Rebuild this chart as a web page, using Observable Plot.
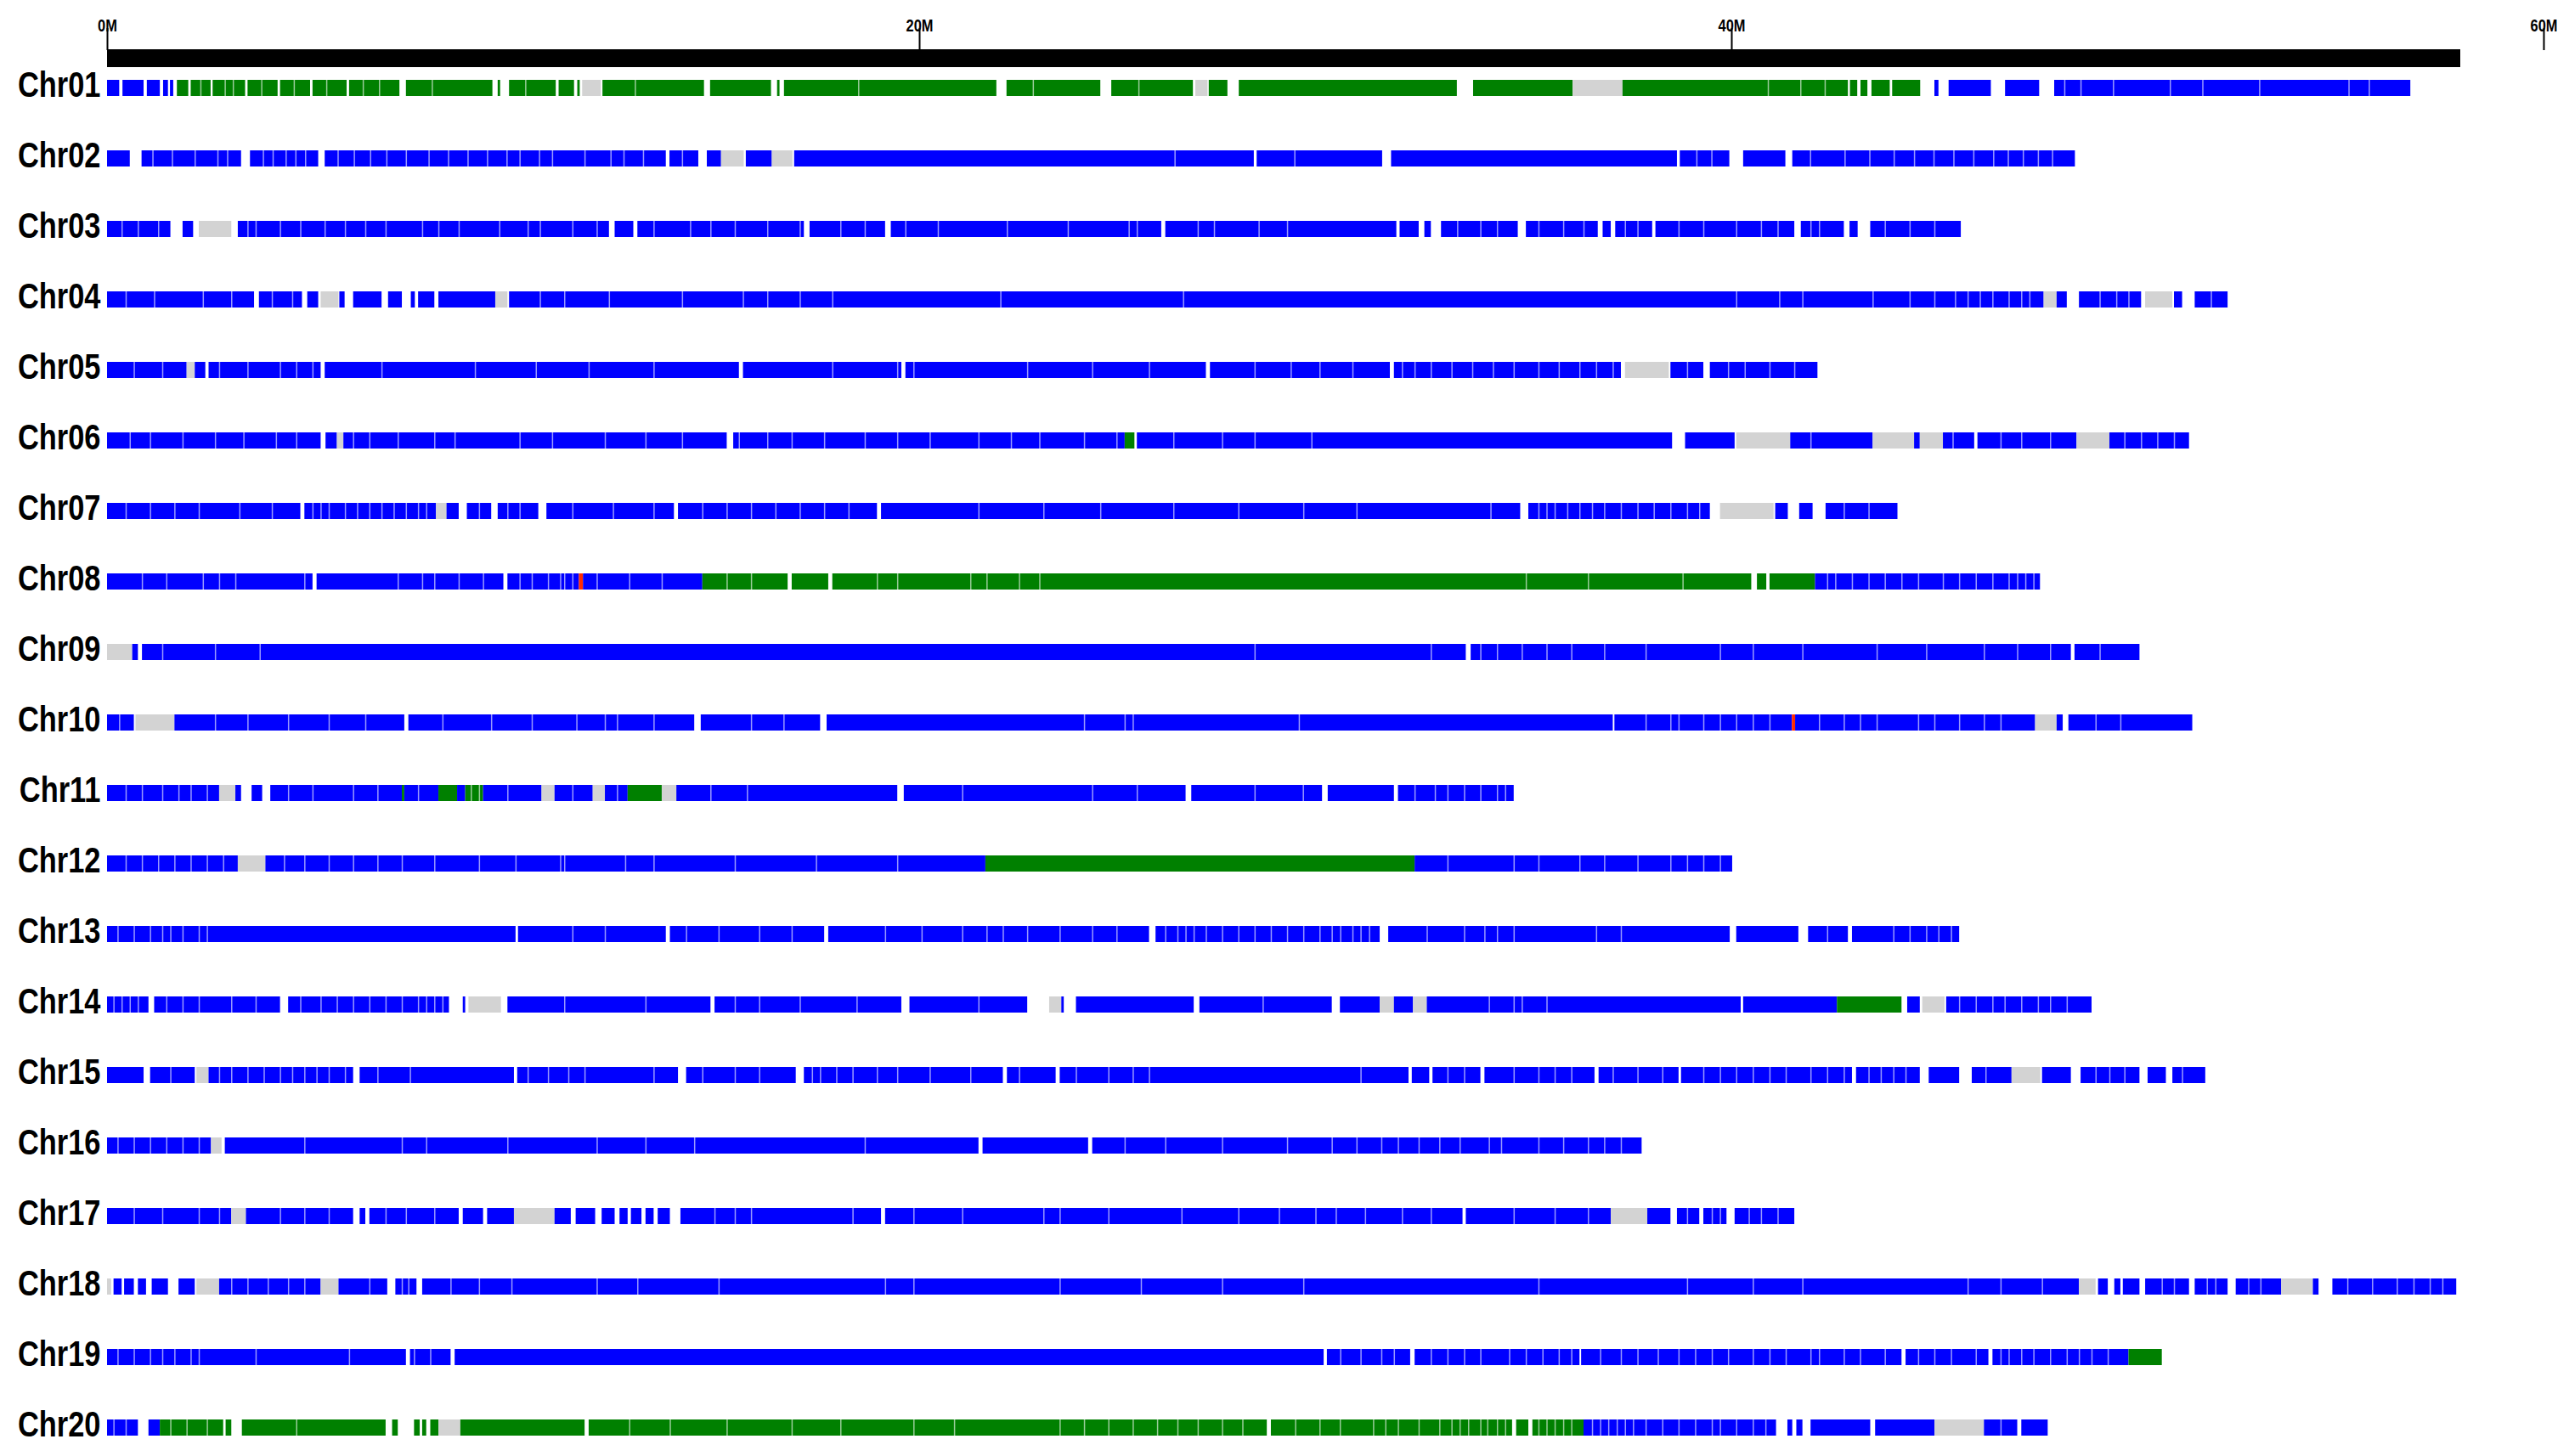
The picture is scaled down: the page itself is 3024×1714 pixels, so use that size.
<!DOCTYPE html>
<html>
<head>
<meta charset="utf-8">
<script src="https://cdn.jsdelivr.net/npm/d3@7"></script>
<script src="https://cdn.jsdelivr.net/npm/@observablehq/plot@0.6"></script>
<style>
  html, body { margin: 0; padding: 0; background: #fff; }
  #chart { position: relative; width: 3024px; height: 1714px; }
  #chart svg { display: block; position: absolute; left: 0; }
</style>
</head>
<body>
<div id="chart"></div>
<script>
// ---------- data (positions in Mb) ----------
const chromosomes = ["Chr01","Chr02","Chr03","Chr04","Chr05","Chr06","Chr07","Chr08","Chr09","Chr10",
                     "Chr11","Chr12","Chr13","Chr14","Chr15","Chr16","Chr17","Chr18","Chr19","Chr20"];
const rulerTicks = [0, 20, 40, 60];
const tickLabels = ["0M", "20M", "40M", "60M"];
const rulerSpan = [0, 57.95];
const typeCodes = ["B", "G", "M", "R"];
const typeColors = ["#0000ff", "#008000", "#d3d3d3", "#ff2a00"];

// segments: [start, end, type]
const seg01 = [[0,0.3,"B"],[0.38,0.9,"B"],[0.98,1.3,"B"],[1.38,1.5,"B"],[1.55,1.63,"B"],
 [1.72,2.0,"G"],[2.06,2.55,"G"],[2.6,3.4,"G"],[3.46,4.2,"G"],[4.26,5.0,"G"],[5.06,5.9,"G"],[5.96,7.2,"G"],[7.36,9.49,"G"],[9.62,9.68,"G"],[9.9,11.05,"G"],[11.12,11.5,"G"],[11.58,11.64,"G"],
 [11.7,12.16,"M"],[12.2,14.7,"G"],[14.85,16.35,"G"],[16.5,16.56,"G"],[16.67,21.9,"G"],[22.15,24.46,"G"],[24.73,26.74,"G"],
 [26.8,27.1,"M"],[27.13,27.59,"G"],[27.87,33.24,"G"],[33.64,36.09,"G"],[36.09,37.32,"M"],
 [37.32,42.87,"G"],[42.92,43.1,"G"],[43.18,43.35,"G"],[43.45,43.9,"G"],[43.96,44.65,"G"],
 [45.0,45.1,"B"],[45.35,46.39,"B"],[46.74,47.58,"B"],[47.95,56.72,"B"]];
const seg02 = [[0,0.56,"B"],[0.85,3.3,"B"],[3.52,5.2,"B"],[5.36,13.76,"B"],[13.85,14.56,"B"],[14.77,15.12,"B"],[15.12,15.68,"M"],[15.73,16.37,"B"],[16.37,16.88,"M"],[16.92,28.24,"B"],[28.31,31.4,"B"],[31.62,38.66,"B"],[38.73,39.95,"B"],[40.29,41.33,"B"],[41.5,48.46,"B"]];
const seg03 = [[0,1.56,"B"],[1.86,2.12,"B"],[2.26,3.06,"M"],[3.22,12.36,"B"],[12.5,12.96,"B"],[13.06,17.16,"B"],[17.3,19.16,"B"],[19.3,25.96,"B"],[26.06,31.75,"B"],[31.83,32.3,"B"],[32.44,32.6,"B"],[32.85,34.74,"B"],[34.94,36.71,"B"],[36.83,37.03,"B"],[37.14,38.05,"B"],[38.13,41.55,"B"],[41.71,42.77,"B"],[42.91,43.11,"B"],[43.42,45.65,"B"]];
const seg04 = [[0,3.62,"B"],[3.74,4.8,"B"],[4.93,5.2,"B"],[5.26,5.7,"M"],[5.72,5.85,"B"],[6.06,6.76,"B"],[6.92,7.26,"B"],[7.48,7.58,"B"],[7.66,8.06,"B"],[8.16,9.56,"B"],[9.56,9.86,"M"],[9.9,47.69,"B"],[47.69,48.01,"M"],[48.01,48.26,"B"],[48.56,50.09,"B"],[50.19,50.86,"M"],[50.9,51.1,"B"],[51.41,52.22,"B"]];
const seg05 = [[0,1.96,"B"],[1.96,2.16,"M"],[2.16,2.42,"B"],[2.5,5.26,"B"],[5.36,15.56,"B"],[15.66,19.56,"B"],[19.66,27.06,"B"],[27.16,31.59,"B"],[31.69,37.28,"B"],[37.38,38.46,"M"],[38.5,39.31,"B"],[39.47,42.12,"B"]];
const seg06 = [[0,5.26,"B"],[5.38,5.66,"B"],[5.66,5.82,"M"],[5.82,15.26,"B"],[15.42,25.06,"B"],[25.06,25.3,"G"],[25.36,38.54,"B"],[38.86,40.08,"B"],[40.12,41.45,"M"],[41.45,43.48,"B"],[43.48,44.5,"M"],[44.5,44.64,"B"],[44.64,45.21,"M"],[45.21,45.98,"B"],[46.06,48.5,"B"],[48.5,49.31,"M"],[49.31,51.27,"B"]];
const seg07 = [[0,4.76,"B"],[4.86,8.1,"B"],[8.1,8.36,"M"],[8.36,8.66,"B"],[8.86,9.46,"B"],[9.62,10.62,"B"],[10.82,13.96,"B"],[14.06,18.96,"B"],[19.06,34.8,"B"],[35.0,39.47,"B"],[39.72,41.04,"M"],[41.08,41.39,"B"],[41.67,42.0,"B"],[42.32,44.09,"B"]];
const seg08 = [[0,5.06,"B"],[5.16,9.76,"B"],[9.86,11.62,"B"],[11.62,11.72,"R"],[11.72,14.66,"B"],[14.66,16.76,"G"],[16.86,17.76,"G"],[17.86,40.49,"G"],[40.63,40.86,"G"],[40.94,42.06,"G"],[42.06,47.6,"B"]];
const seg09 = [[0,0.62,"M"],[0.62,0.76,"B"],[0.86,33.46,"B"],[33.58,48.36,"B"],[48.45,50.05,"B"]];
const seg10 = [[0,0.66,"B"],[0.7,1.66,"M"],[1.66,7.32,"B"],[7.42,14.46,"B"],[14.62,17.56,"B"],[17.72,37.08,"B"],[37.12,41.49,"B"],[41.49,41.57,"R"],[41.57,47.48,"B"],[47.48,48.01,"M"],[48.01,48.16,"B"],[48.3,51.35,"B"]];
const seg11 = [[0,2.76,"B"],[2.76,3.16,"M"],[3.16,3.3,"B"],[3.56,3.82,"B"],[4.02,7.26,"B"],[7.26,7.32,"G"],[7.32,8.16,"B"],[8.16,8.62,"G"],[8.62,8.82,"B"],[8.82,9.26,"G"],[9.26,10.7,"B"],[10.7,11.02,"M"],[11.02,11.96,"B"],[11.96,12.26,"M"],[12.26,12.82,"B"],[12.82,13.66,"G"],[13.66,14.02,"M"],[14.02,19.46,"B"],[19.62,26.56,"B"],[26.7,29.92,"B"],[30.06,31.69,"B"],[31.79,34.64,"B"]];
const seg12 = [[0,3.22,"B"],[3.22,3.9,"M"],[3.9,21.63,"B"],[21.63,32.2,"G"],[32.2,40.02,"B"]];
const seg13 = [[0,10.06,"B"],[10.12,13.76,"B"],[13.86,17.66,"B"],[17.76,25.66,"B"],[25.82,31.34,"B"],[31.55,39.96,"B"],[40.12,41.65,"B"],[41.89,42.87,"B"],[42.97,45.61,"B"]];
const seg14 = [[0,1.02,"B"],[1.16,4.26,"B"],[4.46,8.42,"B"],[8.76,8.82,"B"],[8.9,9.7,"M"],[9.86,14.86,"B"],[14.96,19.56,"B"],[19.76,22.66,"B"],[23.2,23.5,"M"],[23.5,23.56,"B"],[23.86,26.76,"B"],[26.9,30.16,"B"],[30.36,31.34,"B"],[31.34,31.69,"M"],[31.69,32.16,"B"],[32.16,32.5,"M"],[32.5,40.23,"B"],[40.29,42.6,"B"],[42.6,44.19,"G"],[44.33,44.64,"B"],[44.7,45.25,"M"],[45.29,48.87,"B"]];
const seg15 = [[0,0.9,"B"],[1.06,2.16,"B"],[2.2,2.5,"M"],[2.5,6.06,"B"],[6.22,10.02,"B"],[10.1,14.06,"B"],[14.26,16.96,"B"],[17.16,22.06,"B"],[22.16,23.36,"B"],[23.46,32.05,"B"],[32.13,32.56,"B"],[32.64,33.82,"B"],[33.92,36.63,"B"],[36.73,38.7,"B"],[38.76,42.97,"B"],[43.07,44.64,"B"],[44.86,45.61,"B"],[45.92,46.9,"B"],[46.9,47.61,"M"],[47.65,48.36,"B"],[48.6,50.05,"B"],[50.25,50.7,"B"],[50.86,51.67,"B"]];
const seg16 = [[0,2.56,"B"],[2.56,2.82,"M"],[2.9,21.46,"B"],[21.56,24.16,"B"],[24.26,37.79,"B"]];
const seg17 = [[0,3.06,"B"],[3.06,3.42,"M"],[3.42,6.06,"B"],[6.22,6.36,"B"],[6.46,8.66,"B"],[8.76,9.26,"B"],[9.36,10.02,"B"],[10.02,11.02,"M"],[11.02,11.42,"B"],[11.54,12.02,"B"],[12.18,12.5,"B"],[12.62,12.82,"B"],[12.9,13.16,"B"],[13.26,13.46,"B"],[13.56,13.86,"B"],[14.12,19.06,"B"],[19.16,33.38,"B"],[33.46,37.03,"B"],[37.03,37.93,"M"],[37.93,38.5,"B"],[38.66,39.21,"B"],[39.31,39.88,"B"],[40.08,41.55,"B"]];
const seg18 = [[0,0.1,"M"],[0.16,0.36,"B"],[0.42,0.66,"B"],[0.76,0.96,"B"],[1.1,1.5,"B"],[1.76,2.16,"B"],[2.2,2.76,"M"],[2.76,5.26,"B"],[5.26,5.7,"M"],[5.7,6.9,"B"],[7.1,7.62,"B"],[7.76,48.56,"B"],[48.56,48.97,"M"],[49.03,49.27,"B"],[49.43,49.58,"B"],[49.64,50.05,"B"],[50.19,51.27,"B"],[51.41,52.22,"B"],[52.42,53.54,"B"],[53.54,54.32,"M"],[54.32,54.46,"B"],[54.8,57.85,"B"]];
const seg19 = [[0,7.36,"B"],[7.46,8.46,"B"],[8.56,29.96,"B"],[30.04,32.09,"B"],[32.2,36.26,"B"],[36.3,44.19,"B"],[44.29,46.33,"B"],[46.43,49.78,"B"],[49.78,50.6,"G"]];
const seg20 = [[0,0.76,"B"],[1.02,1.3,"B"],[1.3,2.86,"G"],[2.92,3.06,"G"],[3.32,6.86,"G"],[7.02,7.16,"G"],[7.56,7.7,"G"],[7.76,7.86,"G"],[7.96,8.16,"G"],[8.16,8.7,"M"],[8.7,11.76,"G"],[11.86,28.56,"G"],[28.66,34.6,"G"],[34.7,35.0,"G"],[35.1,36.36,"G"],[36.36,41.1,"B"],[41.38,41.5,"B"],[41.6,41.75,"B"],[41.95,43.42,"B"],[43.54,45.0,"B"],[45.0,46.22,"M"],[46.22,47.04,"B"],[47.14,47.79,"B"]];

// thin white separators inside blocks (Mb)
const hair01 = [2.3,2.9,3.1,3.8,4.6,5.4,6.3,6.7,8.0,10.3,13.0,18.5,22.8,25.4,40.9,41.7,42.3,48.2,48.6,49.4,50.8,51.6,53.0,55.2,55.7];
const hair02 = [1.12,1.6,2.16,2.72,2.96,3.84,4.08,4.4,4.64,4.88,5.68,6.08,6.48,6.88,7.36,7.92,8.4,8.88,9.36,9.84,10.16,10.64,10.96,11.76,12.4,12.72,13.2,14.16,26.29,29.24,39.14,39.51,41.94,42.79,43.4,44.0,44.5,44.98,45.47,45.96,46.45,46.81,47.18,47.55,47.9];
const hair03 = [0.36,0.76,1.26,3.46,3.66,4.26,4.76,5.36,5.86,6.36,6.86,7.76,8.16,8.66,9.66,10.36,10.66,11.46,12.06,13.46,14.36,14.86,15.46,16.26,17.06,18.06,18.66,19.66,20.46,22.16,23.66,25.16,25.36,26.86,27.26,28.36,29.06,33.25,33.82,34.23,35.25,35.86,36.36,37.38,37.69,38.7,39.31,40.12,40.73,41.14,41.95,42.16,43.78,44.39,45.0];
const hair04 = [0.46,1.16,2.36,3.06,4.06,4.56,10.66,11.26,12.36,14.16,15.66,16.26,17.06,17.86,22.0,26.5,40.12,41.18,41.75,43.48,44.39,45.0,45.51,45.82,46.12,46.43,46.83,47.14,47.34,49.07,49.48,49.78,51.81];
const hair05 = [0.66,1.36,2.76,3.46,4.26,4.66,5.06,6.76,9.06,10.56,11.86,13.46,17.86,19.46,19.86,22.66,24.26,25.66,28.26,29.15,29.86,30.67,31.89,32.2,32.6,33.11,33.62,34.13,34.64,35.25,35.75,36.26,36.67,37.08,38.91,39.92,40.33,40.94,41.55];
const hair06 = [0.56,1.06,1.86,2.66,3.36,4.16,4.66,6.06,6.46,7.16,8.06,8.56,10.16,10.96,12.26,13.26,14.16,15.56,16.26,16.86,17.66,18.66,19.46,20.26,21.46,22.26,22.96,24.06,24.86,26.26,27.46,28.26,29.66,41.95,45.45,46.63,47.14,47.85,49.68,50.09,50.49,50.9];
const hair07 = [0.46,1.06,1.66,2.26,3.26,4.06,5.06,5.26,5.46,5.86,6.16,6.46,6.76,7.06,7.36,7.66,7.86,9.16,9.86,10.16,11.46,12.46,13.46,14.66,15.26,15.86,16.46,17.06,17.66,18.26,21.46,23.06,24.46,26.26,27.86,29.46,30.77,34.07,35.25,35.45,35.65,35.96,36.26,36.57,36.87,37.28,37.69,38.09,38.5,38.91,39.21,42.77,43.38];
const hair08 = [0.86,1.46,2.36,2.76,3.16,4.86,7.16,7.76,8.06,8.66,9.26,10.16,10.46,10.86,11.16,11.26,11.46,12.06,12.86,13.66,15.26,15.86,18.96,19.46,21.26,21.66,22.46,22.96,34.94,36.47,38.8,42.36,42.56,42.97,43.38,43.78,44.19,44.6,45.21,45.61,46.02,46.43,46.83,47.04,47.24,47.44];
const hair09 = [1.36,2.66,3.76,28.26,32.6,33.82,34.23,34.84,35.45,36.06,36.87,37.89,39.72,40.53,41.75,43.58,44.8,46.22,47.04,47.85,49.07];
const hair10 = [0.3,2.66,3.46,4.46,5.46,6.36,8.26,9.46,10.46,11.56,12.26,12.56,13.46,15.86,16.66,24.06,25.06,25.26,29.35,37.89,38.5,38.7,39.31,39.72,40.12,40.53,40.94,42.16,42.77,43.17,43.58,44.6,45.0,45.61,46.22,46.63,48.97,49.58];
const hair11 = [0.46,0.86,1.36,1.76,2.06,2.46,4.46,5.06,6.06,6.66,7.66,8.96,9.16,9.86,11.46,12.56,14.86,15.76,21.06,24.26,25.36,28.26,29.45,32.2,32.7,33.01,33.42,33.82,34.23,34.43];
const hair12 = [0.46,0.86,1.26,1.66,2.06,2.46,2.86,4.36,4.86,5.46,6.06,6.66,7.26,8.06,9.16,10.06,11.16,11.26,12.76,13.46,15.46,17.46,19.46,33.01,34.64,35.25,36.26,36.87,37.69,38.5,38.91,39.31,39.72];
const hair13 = [0.26,0.66,1.06,1.36,1.56,1.86,2.26,2.46,11.46,12.26,14.26,15.06,16.06,16.86,19.16,20.06,21.06,21.66,22.06,22.66,23.46,24.26,24.86,26.06,26.36,26.56,26.76,27.06,27.46,27.86,28.26,28.66,29.06,29.46,29.86,30.16,30.37,30.67,30.87,31.08,32.5,33.42,33.92,34.23,34.64,36.67,37.28,42.36,43.99,44.39,44.8,45.1,45.41];
const hair14 = [0.16,0.36,0.56,0.76,1.46,1.86,2.26,3.06,3.66,4.76,5.26,5.66,6.06,6.46,6.86,7.26,7.66,7.86,8.06,8.26,11.26,13.26,15.46,16.06,17.06,18.46,21.46,28.46,34.03,34.64,34.84,35.45,45.61,46.02,46.43,46.73,47.14,47.55,47.85,48.26];
const hair15 = [1.56,2.76,3.06,3.46,3.86,4.26,4.56,4.86,5.16,5.46,5.86,6.66,7.46,10.36,10.86,11.36,11.76,13.46,14.66,15.46,16.06,17.36,17.56,17.96,18.36,18.96,19.46,20.26,21.26,22.46,23.86,24.66,25.26,25.66,30.87,33.01,33.42,34.64,35.25,35.65,36.06,37.08,37.69,38.3,39.31,39.72,40.12,40.53,40.94,41.34,41.95,42.36,42.77,43.38,43.68,43.99,44.29,46.26,48.97,49.31,49.68,51.1];
const hair16 = [0.26,0.66,1.06,1.46,1.86,2.26,4.86,7.26,7.86,9.86,12.06,13.26,14.46,18.66,25.06,26.06,27.46,29.06,30.16,30.77,31.38,31.79,32.3,32.81,33.31,34.03,34.33,35.25,35.86,36.47,36.87,37.28];
const hair17 = [0.66,1.36,2.26,2.76,4.26,4.86,5.46,6.86,7.36,8.06,14.96,15.46,15.86,18.36,19.86,21.06,23.06,23.46,24.66,26.46,27.86,28.86,29.76,30.26,30.98,31.89,32.6,34.64,35.65,36.47,38.91,39.52,39.72,40.43,40.73,41.14];
const hair18 = [3.06,3.46,3.96,4.46,4.86,6.46,7.26,7.42,8.46,9.16,9.96,12.06,13.06,15.06,19.16,19.86,23.46,25.46,27.46,29.46,35.25,38.91,40.53,41.75,45.82,46.63,47.65,50.6,50.9,51.71,51.92,52.73,53.03,55.17,55.78,56.39,56.8,57.2,57.51];
const hair19 = [0.26,0.66,1.06,1.36,1.66,2.06,2.26,3.66,5.96,7.56,7.96,30.37,30.87,31.38,31.69,32.6,33.01,33.42,33.82,34.53,34.94,35.35,35.75,36.06,36.77,37.28,37.69,38.19,38.7,39.11,39.52,39.92,40.53,40.94,41.34,41.95,42.16,42.77,43.17,43.78,44.6,45.0,45.41,46.02,46.63,46.83,47.14,47.44,47.85,48.26,48.56,48.87,49.27];
const hair20 = [0.16,0.46,1.56,1.96,2.46,4.66,12.86,13.86,15.26,16.86,18.06,19.86,20.86,23.46,24.06,24.66,25.26,25.86,26.36,26.86,27.46,27.96,29.26,29.86,30.36,31.18,31.48,31.79,32.3,32.81,33.11,33.31,33.52,33.82,33.99,34.23,34.43,35.25,35.45,35.65,35.86,36.06,36.57,36.77,36.97,37.18,37.38,37.58,37.89,38.3,38.7,39.11,39.52,39.72,40.12,40.53,40.84,46.63];

const segmentLists = [seg01,seg02,seg03,seg04,seg05,seg06,seg07,seg08,seg09,seg10,seg11,seg12,seg13,seg14,seg15,seg16,seg17,seg18,seg19,seg20];
const hairLists = [hair01,hair02,hair03,hair04,hair05,hair06,hair07,hair08,hair09,hair10,hair11,hair12,hair13,hair14,hair15,hair16,hair17,hair18,hair19,hair20];

// ---------- build tables ----------
const segTable = segmentLists.flatMap((list, i) =>
  list.map(([start, end, code]) => ({chr: chromosomes[i], start, end, code})));
const hairTable = hairLists.flatMap((list, i) =>
  list.map(pos => ({chr: chromosomes[i], pos})));

const FONT = "'Liberation Sans', Arial, sans-serif";
const W = 3024;
const xDomain = [0, 60];

const ruler = Plot.plot({
  width: W, height: 80,
  marginLeft: 126, marginRight: 30, marginTop: 58, marginBottom: 1,
  x: {domain: xDomain},
  style: {fontFamily: FONT, background: "transparent"},
  marks: [
    Plot.barX([{start: rulerSpan[0], end: rulerSpan[1]}], {x1: "start", x2: "end", fill: "black"}),
    Plot.axisX(rulerTicks, {
      anchor: "top", tickSize: 26, tickPadding: -4, strokeWidth: 2, label: null,
      tickFormat: d => tickLabels[rulerTicks.indexOf(d)],
      fontSize: 20, fontWeight: "bold", fontFamily: FONT, fill: "black"
    })
  ]
});

const chart = Plot.plot({
  width: W, height: 1674,
  marginLeft: 126, marginRight: 30, marginTop: 40, marginBottom: 10,
  x: {domain: xDomain, axis: null},
  y: {domain: chromosomes, paddingInner: 0.772, paddingOuter: 0.129, label: null},
  color: {domain: typeCodes, range: typeColors},
  style: {fontFamily: FONT, background: "transparent"},
  marks: [
    Plot.barX(segTable, {x1: "start", x2: "end", y: "chr", fill: "code"}),
    Plot.tickX(hairTable, {x: "pos", y: "chr", stroke: "white", strokeOpacity: 0.6, strokeWidth: 1.5}),
    Plot.axisY({tickSize: 0, tickPadding: 8, label: null, fontSize: 42, fontWeight: "bold", fontFamily: FONT, fill: "black", dy: -3})
  ]
});

const host = document.getElementById("chart");
chart.style.top = "40px";
ruler.style.top = "0px";
host.append(chart, ruler);

// narrow the bold labels to mimic a condensed face
for (const svg of [ruler, chart]) {
  d3.select(svg).selectAll("g[aria-label$='tick label'] text").each(function() {
    const w = this.getComputedTextLength();
    if (w > 0) d3.select(this).attr("textLength", (w * 0.82).toFixed(1)).attr("lengthAdjust", "spacingAndGlyphs");
  });
}
</script>
</body>
</html>
